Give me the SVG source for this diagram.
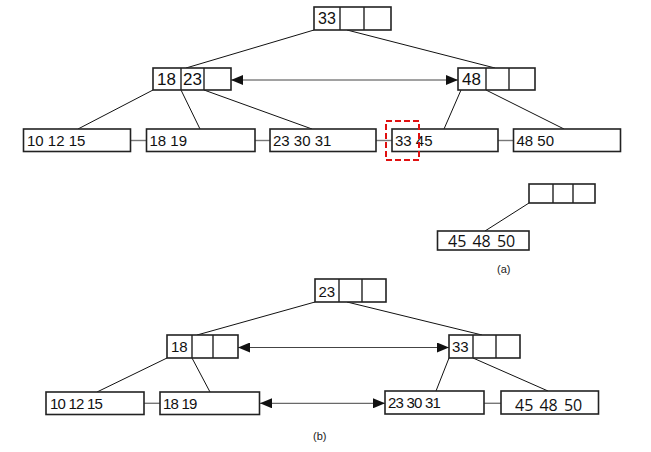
<svg xmlns="http://www.w3.org/2000/svg" width="651" height="452" viewBox="0 0 651 452">
<defs>
<style>
.box{fill:#fff;stroke:#222;stroke-width:1.6}
.cell{stroke:#222;stroke-width:1.4}
.edge{stroke:#111;stroke-width:1;fill:none}
.link{stroke:#777;stroke-width:1.4;fill:none}
.arr{stroke:#444;stroke-width:1;fill:none}
.t{font-family:"Liberation Sans",Arial,sans-serif;fill:#111}
.k{font-size:16px}
.l{font-size:15px}
.lb{font-size:15px;letter-spacing:-0.8px}
.big{font-family:"Open Sans","DejaVu Sans",sans-serif;font-size:16px;word-spacing:2px;fill:#111}
.cap{font-family:"Liberation Sans",Arial,sans-serif;font-size:11px;fill:#222}
</style>
<marker id="ah" markerWidth="13" markerHeight="10" refX="12" refY="5" orient="auto-start-reverse" markerUnits="userSpaceOnUse">
<path d="M0,0 L12,5 L0,10 Z" fill="#111"/>
</marker>
</defs>

<g id="connectors">
<line class="edge" x1="314" y1="30" x2="186" y2="68"/>
<line class="edge" x1="347" y1="30" x2="495" y2="68"/>
<line class="edge" x1="153" y1="90" x2="78" y2="129"/>
<line class="edge" x1="181" y1="90" x2="200" y2="129"/>
<line class="edge" x1="204" y1="90" x2="312" y2="129"/>
<line class="edge" x1="461" y1="90" x2="444" y2="129"/>
<line class="edge" x1="486" y1="90" x2="564" y2="129"/>
<line class="arr" x1="231" y1="80" x2="458" y2="80" marker-start="url(#ah)" marker-end="url(#ah)"/>
<line class="link" x1="131" y1="140.5" x2="146" y2="140.5"/>
<line class="link" x1="255" y1="140.5" x2="270" y2="140.5"/>
<line class="link" x1="376" y1="140.5" x2="392" y2="140.5"/>
<line class="link" x1="498" y1="140.5" x2="513" y2="140.5"/>
<line class="edge" x1="529" y1="203" x2="485" y2="231"/>
<line class="edge" x1="315" y1="302" x2="197" y2="335"/>
<line class="edge" x1="347" y1="302" x2="482" y2="335"/>
<line class="edge" x1="167" y1="358" x2="97" y2="392"/>
<line class="edge" x1="192" y1="358" x2="210" y2="392"/>
<line class="edge" x1="449" y1="358" x2="436" y2="391"/>
<line class="edge" x1="473" y1="358" x2="548" y2="391"/>
<line class="arr" x1="238" y1="347.5" x2="449" y2="347.5" marker-start="url(#ah)" marker-end="url(#ah)"/>
<line class="arr" x1="260" y1="403.3" x2="385" y2="403.3" marker-start="url(#ah)" marker-end="url(#ah)"/>
<line class="link" x1="144" y1="403.3" x2="160" y2="403.3"/>
<line class="link" x1="484" y1="403.3" x2="501" y2="403.3"/>
</g>

<g id="a-root">
<rect class="box" x="314" y="7" width="77" height="23"/>
<line class="cell" x1="340" y1="7" x2="340" y2="30"/>
<line class="cell" x1="364" y1="7" x2="364" y2="30"/>
<text class="t k" x="318" y="24">33</text>
</g>
<g id="a-mid-left">
<rect class="box" x="153" y="68" width="78" height="22"/>
<line class="cell" x1="181" y1="68" x2="181" y2="90"/>
<line class="cell" x1="204" y1="68" x2="204" y2="90"/>
<text class="t k" x="157" y="85" style="font-size:17px">18</text>
<text class="t k" x="183" y="85" style="font-size:17px">23</text>
</g>
<g id="a-mid-right">
<rect class="box" x="458" y="68" width="77" height="22"/>
<line class="cell" x1="486" y1="68" x2="486" y2="90"/>
<line class="cell" x1="509" y1="68" x2="509" y2="90"/>
<text class="t k" x="462" y="85" style="font-size:17px">48</text>
</g>
<g id="a-leaf1">
<rect class="box" x="23.5" y="129" width="107" height="22.5"/>
<text class="t l" x="27" y="146">10 12 15</text>
</g>
<g id="a-leaf2">
<rect class="box" x="146.5" y="129" width="108.5" height="22.5"/>
<text class="t l" x="149.5" y="146">18 19</text>
</g>
<g id="a-leaf3">
<rect class="box" x="270" y="129" width="106" height="22.5"/>
<text class="t l" x="273" y="146">23 30 31</text>
</g>
<g id="a-leaf4">
<rect class="box" x="392" y="129" width="106" height="22.5"/>
<text class="t l" x="395" y="146">33 45</text>
</g>
<g id="a-leaf5">
<rect class="box" x="513.5" y="129" width="107" height="22.5"/>
<text class="t l" x="516.5" y="146">48 50</text>
</g>
<g id="a-highlight">
<rect x="386" y="121" width="33" height="39" fill="none" stroke="#e01010" stroke-width="2" stroke-dasharray="6,3"/>
</g>
<g id="a-new-root">
<rect class="box" x="529" y="184" width="66" height="19"/>
<line class="cell" x1="553" y1="184" x2="553" y2="203"/>
<line class="cell" x1="573" y1="184" x2="573" y2="203"/>
</g>
<g id="a-new-leaf">
<rect class="box" x="437.5" y="231" width="91.5" height="19"/>
<text class="big" x="448" y="247">45 48 50</text>
</g>
<text class="cap" x="497" y="273">(a)</text>

<g id="b-root">
<rect class="box" x="315" y="279" width="71" height="23"/>
<line class="cell" x1="339" y1="279" x2="339" y2="302"/>
<line class="cell" x1="362" y1="279" x2="362" y2="302"/>
<text class="t l" x="318.5" y="297">23</text>
</g>
<g id="b-mid-left">
<rect class="box" x="167" y="335" width="71" height="23"/>
<line class="cell" x1="192" y1="335" x2="192" y2="358"/>
<line class="cell" x1="213" y1="335" x2="213" y2="358"/>
<text class="t l" x="171" y="352">18</text>
</g>
<g id="b-mid-right">
<rect class="box" x="449" y="335" width="71" height="23"/>
<line class="cell" x1="473" y1="335" x2="473" y2="358"/>
<line class="cell" x1="496" y1="335" x2="496" y2="358"/>
<text class="t l" x="452" y="352">33</text>
</g>
<g id="b-leaf1">
<rect class="box" x="46" y="392" width="98" height="22.5"/>
<text class="t lb" x="50" y="408.5">10 12 15</text>
</g>
<g id="b-leaf2">
<rect class="box" x="160" y="392" width="99.5" height="22.5"/>
<text class="t lb" x="163" y="408.5">18 19</text>
</g>
<g id="b-leaf3">
<rect class="box" x="385" y="391" width="99" height="23"/>
<text class="t lb" x="388" y="408">23 30 31</text>
</g>
<g id="b-leaf4">
<rect class="box" x="501" y="391" width="97.5" height="23"/>
<text class="big" x="515" y="410.5">45 48 50</text>
</g>
<text class="cap" x="313" y="440">(b)</text>
</svg>
